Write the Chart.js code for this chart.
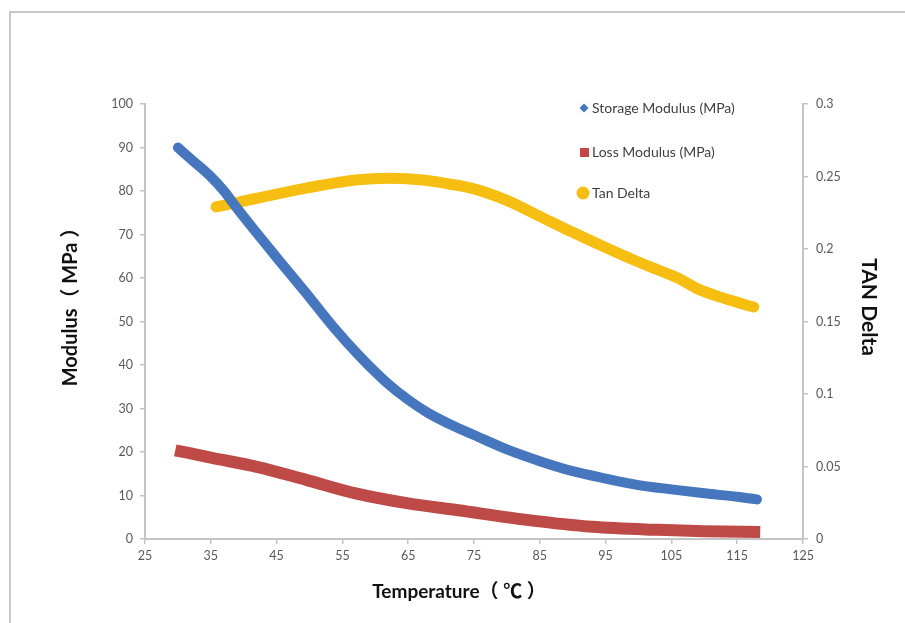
<!DOCTYPE html>
<html>
<head>
<meta charset="utf-8">
<script src="https://cdn.jsdelivr.net/npm/chart.js@4.4.1/dist/chart.umd.min.js"></script>
<style>
	html, body { margin: 0; padding: 0; background: #fff; }
	canvas { display: block; }
</style>
</head>
<body>
<canvas id="dma-chart" width="905" height="623"></canvas>
<script>
; (function() {

	// temperature (C) / value pairs
	const storageTemp = [30, 32, 35, 37, 39, 42, 45.5, 49.5, 53.6, 57.7, 61.7, 65, 68, 72, 75, 80, 85, 90, 95, 100, 105, 110, 115, 118]
	const storageModulus = [90.0, 87.3, 83.3, 80.0, 76.0, 70.3, 63.8, 56.5, 48.8, 41.9, 36.0, 32.0, 29.0, 25.9, 23.9, 20.6, 17.9, 15.6, 13.9, 12.4, 11.4, 10.5, 9.7, 9.1]

	const lossTemp = [29.6, 35, 42, 49.5, 57, 65, 72.6, 83, 93, 103, 110, 118.5]
	const lossModulus = [20.4, 18.7, 16.6, 13.6, 10.5, 8.2, 6.6, 4.4, 2.8, 2.1, 1.8, 1.6]

	const tanTemp = [35.8, 42, 49.5, 57, 62.3, 67.3, 71, 75, 80, 85, 90, 95, 100, 103, 106, 109, 113, 117.5]
	const tanDelta = [0.229, 0.235, 0.242, 0.2476, 0.2488, 0.2476, 0.2450, 0.2415, 0.2335, 0.2225, 0.2115, 0.2010, 0.1910, 0.1855, 0.1800, 0.1725, 0.1660, 0.1600]

	const xTicks = [25, 35, 45, 55, 65, 75, 85, 95, 105, 115, 125]

	const pairs = (xs, ys) => xs.map((x, i) => ({ x: x, y: ys[i] }))

	const tickFont = { family: 'Lato, "Liberation Sans", sans-serif', size: 12.5 }
	const axisGrey = '#c4c4c4'

	// grey frame around the whole chart
	const framePlugin = {
		id: 'frame',
		beforeDraw(chart) {
			const ctx = chart.ctx
			ctx.save()
			ctx.fillStyle = '#fff'
			ctx.fillRect(0, 0, chart.width, chart.height)
			ctx.strokeStyle = '#c8c8c8'
			ctx.lineWidth = 2
			ctx.strokeRect(10, 12, chart.width + 20, chart.height + 20)
			ctx.restore()
		}
	}

	// axis titles sit where the original put them (not centred on the plot)
	const titlePlugin = {
		id: 'titles',
		afterDraw(chart) {
			const ctx = chart.ctx
			ctx.save()
			ctx.fillStyle = '#111'
			ctx.font = 'bold 19px Lato, "Noto Sans CJK SC", sans-serif'
			ctx.textAlign = 'center'
			ctx.textBaseline = 'middle'
			ctx.fillText('Temperature\uff08 \u2103 \uff09', 459, 592)
			ctx.restore()

			ctx.save()
			ctx.fillStyle = '#111'
			ctx.font = 'bold 20px Lato, "Noto Sans CJK SC", sans-serif'
			ctx.textAlign = 'center'
			ctx.textBaseline = 'middle'
			ctx.translate(71, 302)
			ctx.rotate(-Math.PI / 2)
			ctx.fillText('Modulus\uff08 MPa \uff09', 0, 0)
			ctx.restore()

			ctx.save()
			ctx.fillStyle = '#111'
			ctx.font = 'bold 21px Lato, sans-serif'
			ctx.textAlign = 'center'
			ctx.textBaseline = 'middle'
			ctx.translate(869, 307)
			ctx.rotate(Math.PI / 2)
			ctx.fillText('TAN Delta', 0, 0)
			ctx.restore()
		}
	}

	// legend drawn inside the plot, one row per dataset
	const legendPlugin = {
		id: 'innerLegend',
		afterDraw(chart) {
			const ctx = chart.ctx
			const rows = [108, 152, 193]
			ctx.save()
			ctx.font = '14px Lato, sans-serif'
			ctx.textBaseline = 'middle'
			chart.data.datasets.forEach((ds, i) => {
				const y = rows[i]
				ctx.fillStyle = ds.borderColor
				if (ds.legendShape === 'diamond') {
					ctx.beginPath()
					ctx.moveTo(584, y - 4.5)
					ctx.lineTo(588.5, y)
					ctx.lineTo(584, y + 4.5)
					ctx.lineTo(579.5, y)
					ctx.closePath()
					ctx.fill()
				} else if (ds.legendShape === 'square') {
					ctx.fillRect(580, y - 4, 9, 9)
				} else {
					ctx.beginPath()
					ctx.arc(583, y, 6.5, 0, Math.PI * 2)
					ctx.fill()
				}
				ctx.fillStyle = '#404040'
				ctx.fillText(ds.label, 592, y)
			})
			ctx.restore()
		}
	}

	const config = {
		type: 'line',
		data: {
			datasets: [
				{
					label: 'Storage Modulus (MPa)',
					data: pairs(storageTemp, storageModulus),
					borderColor: '#4677be',
					backgroundColor: '#4677be',
					borderWidth: 10,
					borderCapStyle: 'round',
					borderJoinStyle: 'round',
					cubicInterpolationMode: 'monotone',
					pointRadius: 0,
					yAxisID: 'y',
					legendShape: 'diamond',
				},
				{
					label: 'Loss Modulus (MPa)',
					data: pairs(lossTemp, lossModulus),
					borderColor: '#bd4a47',
					backgroundColor: '#bd4a47',
					borderWidth: 12,
					borderCapStyle: 'butt',
					borderJoinStyle: 'round',
					cubicInterpolationMode: 'monotone',
					pointRadius: 0,
					yAxisID: 'y',
					legendShape: 'square',
				},
				{
					label: 'Tan Delta',
					data: pairs(tanTemp, tanDelta),
					borderColor: '#f6be10',
					backgroundColor: '#f6be10',
					borderWidth: 11,
					borderCapStyle: 'round',
					borderJoinStyle: 'round',
					cubicInterpolationMode: 'monotone',
					pointRadius: 0,
					yAxisID: 'y1',
					legendShape: 'circle',
				},
			],
		},
		options: {
			responsive: false,
			animation: false,
			devicePixelRatio: 1,
			layout: { padding: { top: 104, left: 0, right: 0, bottom: 0 } },
			plugins: {
				legend: { display: false },
				tooltip: { enabled: false },
			},
			scales: {
				x: {
					type: 'linear',
					position: 'bottom',
					min: 25,
					max: 125,
					afterBuildTicks: axis => { axis.ticks = xTicks.map(v => ({ value: v })) },
					ticks: { color: '#595959', font: tickFont, padding: 4, maxRotation: 0 },
					grid: { drawOnChartArea: false, drawTicks: true, tickLength: 5, color: axisGrey, lineWidth: 1.5 },
					border: { display: true, color: axisGrey, width: 2 },
					afterFit: axis => { axis.height = 84 },
				},
				y: {
					position: 'left',
					min: 0,
					max: 100,
					ticks: { stepSize: 10, color: '#595959', font: tickFont, padding: 7 },
					grid: { drawOnChartArea: false, drawTicks: true, tickLength: 5, color: axisGrey, lineWidth: 1.5 },
					border: { display: true, color: axisGrey, width: 2 },
					afterFit: axis => { axis.width = 145 },
				},
				y1: {
					position: 'right',
					min: 0,
					max: 0.3,
					ticks: {
						stepSize: 0.05,
						color: '#595959',
						font: tickFont,
						padding: 8,
						callback: v => String(+v.toFixed(2)),
					},
					grid: { drawOnChartArea: false, drawTicks: true, tickLength: 5, color: axisGrey, lineWidth: 1.5 },
					border: { display: true, color: axisGrey, width: 2 },
					afterFit: axis => { axis.width = 102 },
				},
			},
		},
		plugins: [framePlugin, titlePlugin, legendPlugin],
	}

	const ctx = document.getElementById('dma-chart')
	let chart = new Chart(ctx, config)
})()
</script>
</body>
</html>
